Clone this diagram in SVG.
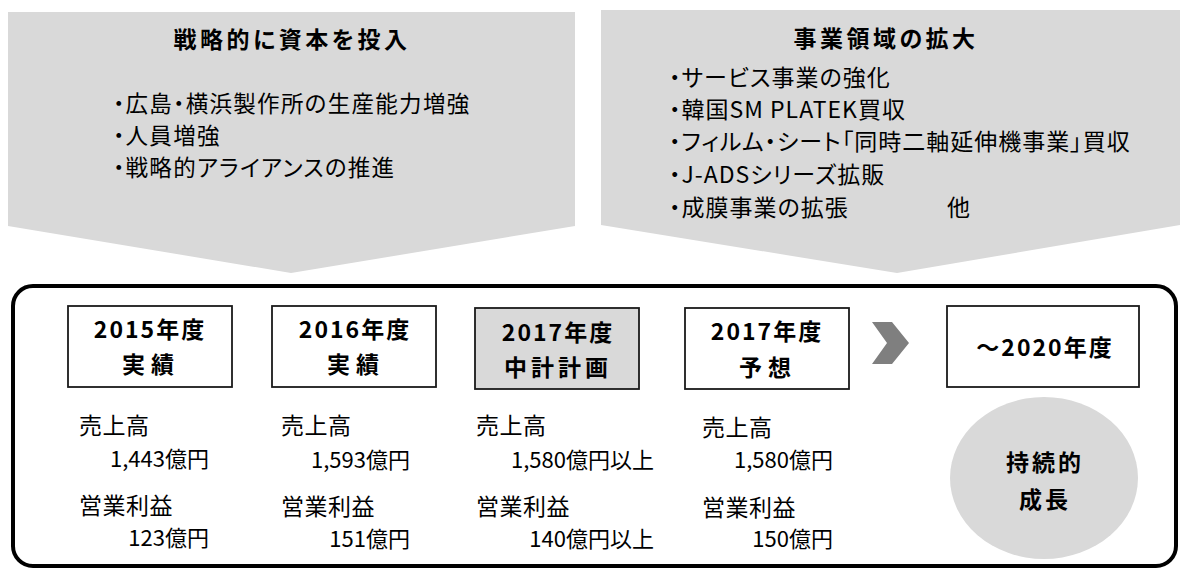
<svg xmlns="http://www.w3.org/2000/svg" width="1180" height="569" viewBox="0 0 1180 569">
<style>
.t{font-family:"Noto Sans CJK JP","Noto Sans CJK SC",sans-serif;fill:#000;font-feature-settings:"palt"}
.h{font-size:23px;font-weight:bold;letter-spacing:3.5px;text-anchor:middle}
.b{font-size:23px;letter-spacing:1px}
.bl{font-size:22.5px;letter-spacing:1.3px}
.lb{font-size:23px;font-weight:bold;letter-spacing:2px;text-anchor:middle}
.lb2{font-size:23px;font-weight:bold;letter-spacing:6px;text-anchor:middle}
.d{font-size:23px;letter-spacing:0.5px}
.v{font-size:22px;text-anchor:end}
.pent{fill:#d9d9d9}
.box{fill:#fff;stroke:#1a1a1a;stroke-width:1.8}
.boxg{fill:#d9d9d9;stroke:#1a1a1a;stroke-width:1.8}
</style>
<rect width="1180" height="569" fill="#fff"/>
<g id="node-capital">
<polygon class="pent" points="8,12 575,12 575,226 291,273 8,226"/>
<text class="t h" x="292" y="48">戦略的に資本を投入</text>
<text class="t bl" x="113" y="112">・広島・横浜製作所の生産能力増強</text>
<text class="t bl" x="113" y="144">・人員増強</text>
<text class="t bl" x="113" y="176">・戦略的アライアンスの推進</text>
</g>
<g id="node-business">
<polygon class="pent" points="601,10 1180,10 1180,225 897,273 601,225"/>
<text class="t h" x="886" y="47">事業領域の拡大</text>
<text class="t b" x="669" y="86">・サービス事業の強化</text>
<text class="t b" x="669" y="118">・韓国SM PLATEK買収</text>
<text class="t b" x="669" y="150">・フィルム・シート「同時二軸延伸機事業」買収</text>
<text class="t b" x="669" y="183">・J-ADSシリーズ拡販</text>
<text class="t b" x="669" y="216">・成膜事業の拡張</text>
<text class="t b" x="947" y="216">他</text>
</g>
<g id="frame">
<rect x="13" y="286" width="1163" height="280" rx="20" ry="20" fill="none" stroke="#000" stroke-width="4"/>
</g>
<g id="node-2015">
<rect class="box" x="68" y="306" width="164" height="81"/>
<text class="t lb" x="150" y="338">2015年度</text>
<text class="t lb2" x="151" y="373">実績</text>
<text class="t d" x="79" y="434">売上高</text>
<text class="t v" x="209" y="467">1,443億円</text>
<text class="t d" x="79" y="514">営業利益</text>
<text class="t v" x="209" y="546">123億円</text>
</g>
<g id="node-2016">
<rect class="box" x="272" y="306" width="164" height="81"/>
<text class="t lb" x="355" y="338">2016年度</text>
<text class="t lb2" x="356" y="373">実績</text>
<text class="t d" x="281" y="434">売上高</text>
<text class="t v" x="410" y="468">1,593億円</text>
<text class="t d" x="281" y="515">営業利益</text>
<text class="t v" x="410" y="547">151億円</text>
</g>
<g id="node-2017-plan">
<rect class="boxg" x="475" y="308" width="164" height="81"/>
<text class="t lb" x="558" y="341">2017年度</text>
<text class="t lb" x="558" y="376" style="letter-spacing:4px">中計計画</text>
<text class="t d" x="476" y="434">売上高</text>
<text class="t v" x="654" y="468">1,580億円以上</text>
<text class="t d" x="476" y="515">営業利益</text>
<text class="t v" x="654" y="547">140億円以上</text>
</g>
<g id="node-2017-forecast">
<rect class="box" x="685" y="308" width="164" height="81"/>
<text class="t lb" x="767" y="340">2017年度</text>
<text class="t lb2" x="768" y="376">予想</text>
<text class="t d" x="702" y="436">売上高</text>
<text class="t v" x="833" y="468">1,580億円</text>
<text class="t d" x="702" y="516">営業利益</text>
<text class="t v" x="833" y="547">150億円</text>
</g>
<g id="connectors">
<polygon points="872,322 892,322 909,343 892,364 872,364 887,343" fill="#7f7f7f"/>
</g>
<g id="node-2020">
<rect class="box" x="947" y="306" width="192" height="81"/>
<text class="t lb" x="1045" y="356">～2020年度</text>
</g>
<g id="node-growth">
<ellipse cx="1044" cy="478" rx="94" ry="81" fill="#d9d9d9"/>
<text class="t lb" x="1045" y="471" style="letter-spacing:3px">持続的</text>
<text class="t lb" x="1045" y="508" style="letter-spacing:3px">成長</text>
</g>
</svg>
